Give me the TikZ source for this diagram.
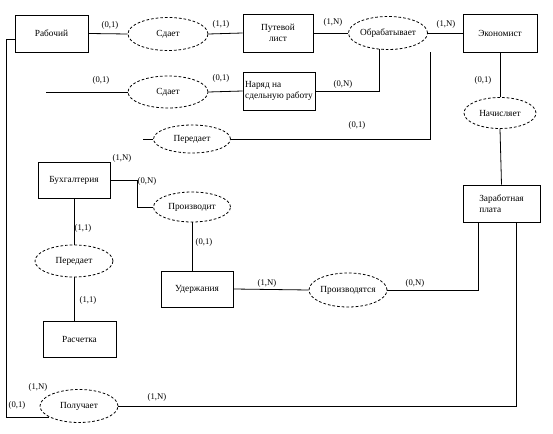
\documentclass[tikz,border=0pt]{standalone}
\usepackage{fontspec}
\setmainfont{Liberation Serif}
\usetikzlibrary{calc,shapes.geometric}

\begin{document}
\begin{tikzpicture}[x=0.75pt,y=-0.75pt,line width=0.6pt]
	\tikzstyle{entity}=[draw,rectangle,inner sep=1pt,font=\fontsize{7}{8}\selectfont,align=center]
	\tikzstyle{relation}=[draw,dashed,dash pattern=on 2pt off 1.5pt,ellipse,inner sep=0pt,font=\fontsize{7}{8}\selectfont]
	\tikzstyle{card}=[inner sep=0pt,font=\fontsize{6.5}{7}\selectfont]

	\useasboundingbox (0,0) rectangle (553,434);

	\node (rab) [entity, minimum width=54.75pt, minimum height=27.75pt] at (51.5,33.5) {Рабочий};
	\node (put) [entity, minimum width=52.5pt, minimum height=28.5pt] at (278,33) {Путевой\\лист};
	\node (ekon) [entity, minimum width=55.5pt, minimum height=28.5pt] at (500,33) {Экономист};
	\node (nar) [entity, align=left, minimum width=54pt, minimum height=28.5pt] at (279,91) {Наряд на\\сдельную работу};
	\node (zp) [entity, align=left, minimum width=57.75pt, minimum height=27.75pt] at (501.5,203.5) {Заработная\\плата};
	\node (buh) [entity, minimum width=54pt, minimum height=27pt] at (74,180) {Бухгалтерия};
	\node (ud) [entity, minimum width=54pt, minimum height=27pt] at (197,289) {Удержания};
	\node (ras) [entity, minimum width=54.75pt, minimum height=27pt] at (79.5,339) {Расчетка};

	\node (sd1) [relation, minimum width=60pt, minimum height=24.75pt] at (168,34) {Сдает};
	\node (obr) [relation, minimum width=57pt, minimum height=24.75pt] at (388,33) {Обрабатывает};
	\node (nach) [relation, minimum width=54pt, minimum height=23.25pt] at (500,113) {Начисляет};
	\node (sd2) [relation, minimum width=60pt, minimum height=24pt] at (168,92) {Сдает};
	\node (per1) [relation, minimum width=57.75pt, minimum height=21pt] at (192,139) {Передает};
	\node (pro) [relation, minimum width=57.75pt, minimum height=22.5pt] at (192,207) {Производит};
	\node (per2) [relation, minimum width=58.5pt, minimum height=24pt] at (74,261) {Передает};
	\node (pros) [relation, minimum width=58.5pt, minimum height=25.5pt] at (348,290) {Производятся};
	\node (pol) [relation, minimum width=58.5pt, minimum height=24.75pt] at (79,406) {Получает};

	\coordinate (r1) at (46,92);
	\coordinate (p1) at (143,139);
	\coordinate (p2) at (430,52);

	\draw (rab.east) -- (sd1.west);
	\draw (sd1.east) -- (put.west);
	\draw (put.east) -- (obr.west);
	\draw (obr.east) -- (ekon.west);
	\draw (ekon.south) -- (nach.north);
	\draw (nach.south) -- (zp.north);
	\draw (r1) -- (sd2.west);
	\draw (sd2.east) -- (nar.west);
	\draw (nar.east) -| (obr.242);
	\draw (p1) -- (per1.west);
	\draw (per1.east) -| (p2);
	\draw (buh.east) -- ++(27,0) |- (pro.west);
	\draw (pro.south) -- (pro.south |- ud.north);
	\draw (buh.south) -- (per2.north);
	\draw (per2.south) -- (per2.south |- ras.north);
	\draw (ud.east) -- (pros.west);
	\draw (pros.east) -| ($(zp.south west)+(16,0)$);
	\draw (pol.east) -| ($(zp.south east)+(-24,0)$);
	\draw ($(rab.west)+(0,6)$) -- ++(-8,0) |- (pol.200);

	\node (l1) [card] at (110,25) {(0,1)};
	\node (l2) [card] at (221,24) {(1,1)};
	\node (l3) [card] at (333,22) {(1,N)};
	\node (l4) [card] at (446,24) {(1,N)};
	\node (l5) [card] at (483,80) {(0,1)};
	\node (l6) [card] at (101,80) {(0,1)};
	\node (l7) [card] at (221,78) {(0,1)};
	\node (l8) [card] at (343,84) {(0,N)};
	\node (l9) [card] at (357,125) {(0,1)};
	\node (l10) [card] at (122,158) {(1,N)};
	\node (l11) [card] at (147,181) {(0,N)};
	\node (l12) [card] at (204,242) {(0,1)};
	\node (l13) [card] at (83,228) {(1,1)};
	\node (l14) [card] at (88,300) {(1,1)};
	\node (l15) [card] at (267,283) {(1,N)};
	\node (l16) [card] at (415,283) {(0,N)};
	\node (l17) [card] at (38,387) {(1,N)};
	\node (l18) [card] at (17,405) {(0,1)};
	\node (l19) [card] at (157,397) {(1,N)};
\end{tikzpicture}
\end{document}
